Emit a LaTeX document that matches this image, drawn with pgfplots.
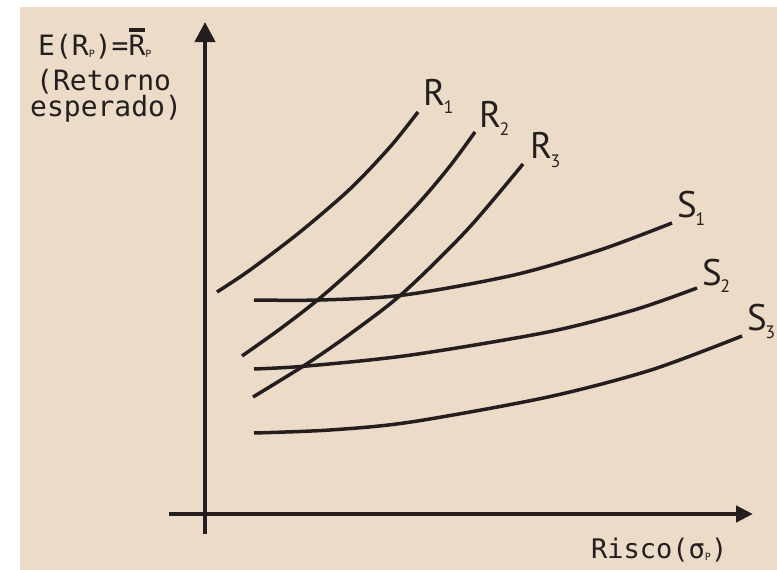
\documentclass[border=0pt]{standalone}
\usepackage{pgfplots}
\pgfplotsset{compat=1.18}
\usepackage{fontspec}
\setmainfont{PT Sans}
\newfontfamily\mono{DejaVu Sans Mono}
\usetikzlibrary{arrows.meta}
\definecolor{bg}{RGB}{236,219,199}
\definecolor{ink}{RGB}{35,31,32}
\newcommand{\sub}[1]{\raisebox{-2pt}{\fontsize{10}{10}\selectfont #1}}
\newcommand{\lab}[3]{#1\kern-1.5pt\raisebox{#2}{\fontsize{18}{18}\selectfont #3}}
\begin{document}
\begin{tikzpicture}
\begin{axis}[width=777pt,height=570pt,scale only axis,hide axis,
  xmin=0,xmax=777,ymin=0,ymax=570,y dir=reverse,clip=false]
\fill[white] (axis cs:0,0) rectangle (axis cs:777,570);
\fill[bg] (axis cs:20,7) rectangle (axis cs:777,570);
\draw[ink,line width=4.3pt,-{Triangle[length=20pt,width=20pt]}] (axis cs:205,534) -- (axis cs:205,22);
\draw[ink,line width=4.3pt,-{Triangle[length=17pt,width=16pt]}] (axis cs:169,514) -- (axis cs:753,514);
% R curves
\addplot[ink,line width=3.5pt,smooth,no markers] coordinates {(217,292) (250,270) (300,232) (350,189) (390,147) (418,112)};
\addplot[ink,line width=3.5pt,smooth,no markers] coordinates {(242,356) (280,329) (320,298) (367,256) (417,205) (450,166) (475,132)};
\addplot[ink,line width=3.5pt,smooth,no markers] coordinates {(253,397) (305,365) (350,334) (403,293) (467,230) (523,164)};
% S curves
\addplot[ink,line width=3.5pt,smooth,no markers] coordinates {(254,300) (320,300) (404,295) (514,275) (600,250) (672,223)};
\addplot[ink,line width=3.5pt,smooth,no markers] coordinates {(254,369) (307,366) (411,355) (548,332) (634,310) (697,288)};
\addplot[ink,line width=3.5pt,smooth,no markers] coordinates {(254,433) (330,430) (411,422) (548,397) (651,370) (742,336)};
% curve labels
\begin{scope}[every node/.style={anchor=base west,inner sep=0pt,text=ink}]
\node[font=\fontsize{37}{37}\selectfont] at (axis cs:423,105) {\lab{R}{-8pt}{1}};
\node[font=\fontsize{37}{37}\selectfont] at (axis cs:479,127) {\lab{R}{-8pt}{2}};
\node[font=\fontsize{37}{37}\selectfont] at (axis cs:530,158) {\lab{R}{-9pt}{3}};
\node[font=\fontsize{37}{37}\selectfont] at (axis cs:677,217) {\lab{S}{-8pt}{1}};
\node[font=\fontsize{37}{37}\selectfont] at (axis cs:702,285) {\lab{S}{-7pt}{2}};
\node[font=\fontsize{37}{37}\selectfont] at (axis cs:747,330) {\lab{S}{-8pt}{3}};
% axis labels
\node[font=\mono\fontsize{28}{28}\selectfont] at (axis cs:38,55) {E(R\sub{P})=\makebox[0pt][l]{\raisebox{23pt}{\rule{16pt}{4pt}}}R\sub{P}};
\node[font=\mono\fontsize{28}{21}\selectfont,anchor=north west,align=left] at (axis cs:30,69) {\hspace*{6pt}(Retorno\\esperado)};
\node[font=\mono\fontsize{27}{27}\selectfont] at (axis cs:591,558) {Risco(σ\sub{P})};
\end{scope}
\end{axis}
\end{tikzpicture}
\end{document}
